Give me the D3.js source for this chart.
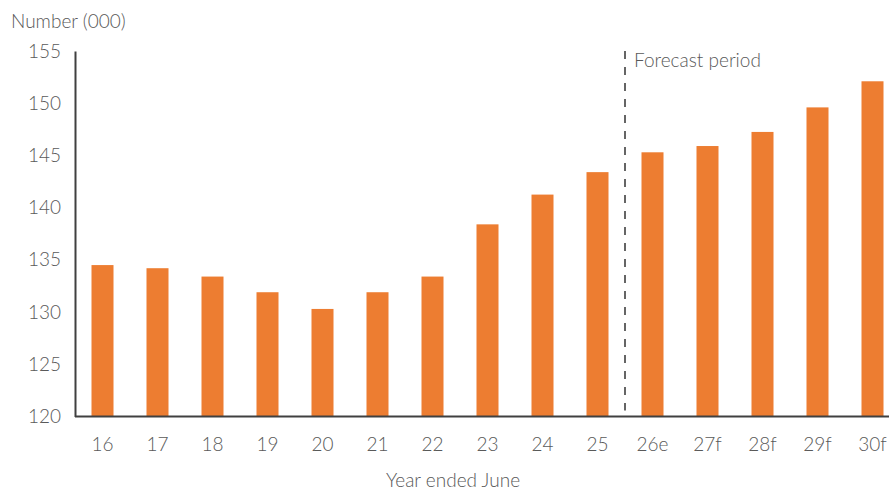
<!DOCTYPE html>
<html>
<head>
<meta charset="utf-8">
<script src="https://cdn.jsdelivr.net/npm/d3@7"></script>
<style>
  html, body { margin: 0; padding: 0; background: #fff; }
  svg { display: block; }
  text { font-family: Lato, "Open Sans", sans-serif; font-weight: 300; fill: #595959; }
</style>
</head>
<body>
<svg id="chart" width="889" height="491"></svg>
<script>
// Year-ended-June labels (e = estimate, f = forecast)
const years = ["16", "17", "18", "19", "20", "21", "22", "23", "24", "25", "26e", "27f", "28f", "29f", "30f"];
// Number (000)
const values = [134.5, 134.2, 133.4, 131.9, 130.3, 131.9, 133.4, 138.4, 141.25, 143.4, 145.3, 145.9, 147.25, 149.6, 152.1];
const yTicks = [120, 125, 130, 135, 140, 145, 150, 155];
const forecastStart = "26e";

const svg = d3.select("#chart");
const margin = { left: 75, top: 51, bottom: 74 };
const height = 491;
const fontSize = 19;

const x = d3.scaleBand()
  .domain(years)
  .range([margin.left, margin.left + 15 * 55])
  .paddingInner(0.6)
  .paddingOuter(0.3);

const y = d3.scaleLinear()
  .domain([120, 155])
  .range([height - margin.bottom - 0.5, margin.top]);

// Bars
svg.append("g")
  .selectAll("rect")
  .data(years)
  .join("rect")
  .attr("x", d => x(d))
  .attr("width", x.bandwidth())
  .attr("y", (d, i) => y(values[i]))
  .attr("height", (d, i) => y(120) - y(values[i]))
  .attr("fill", "#ED7D31");

// Y axis
const yAxis = svg.append("g")
  .attr("transform", `translate(${margin.left},0)`)
  .call(d3.axisLeft(y).tickValues(yTicks).tickSize(0).tickPadding(14));
yAxis.select(".domain").attr("stroke", "#404040").attr("stroke-width", 2);
yAxis.selectAll("text").attr("font-size", fontSize).style("font-family", "Lato, sans-serif").attr("fill", "#595959");

// X axis
const xAxis = svg.append("g")
  .attr("transform", `translate(0,${y(120)})`)
  .call(d3.axisBottom(x).tickSize(0).tickPadding(21));
xAxis.select(".domain")
  .attr("d", `M${margin.left},0H889`)
  .attr("stroke", "#404040").attr("stroke-width", 2);
xAxis.selectAll("text").attr("font-size", fontSize).style("font-family", "Lato, sans-serif").attr("fill", "#595959");

// Forecast divider
const idx = years.indexOf(forecastStart);
const divX = (x(years[idx - 1]) + x.bandwidth() + x(years[idx])) / 2;
svg.append("line")
  .attr("x1", divX).attr("x2", divX)
  .attr("y1", y(155)).attr("y2", y(120) - 6)
  .attr("stroke", "#333")
  .attr("stroke-width", 1.5)
  .attr("stroke-dasharray", "8,8");

svg.append("text")
  .attr("x", divX + 9).attr("y", 67)
  .attr("font-size", fontSize)
  .text("Forecast period");

// Axis titles
svg.append("text")
  .attr("x", 11).attr("y", 28)
  .attr("font-size", fontSize)
  .text("Number (000)");

svg.append("text")
  .attr("x", 453).attr("y", 487)
  .attr("text-anchor", "middle")
  .attr("font-size", fontSize)
  .text("Year ended June");
</script>
</body>
</html>
